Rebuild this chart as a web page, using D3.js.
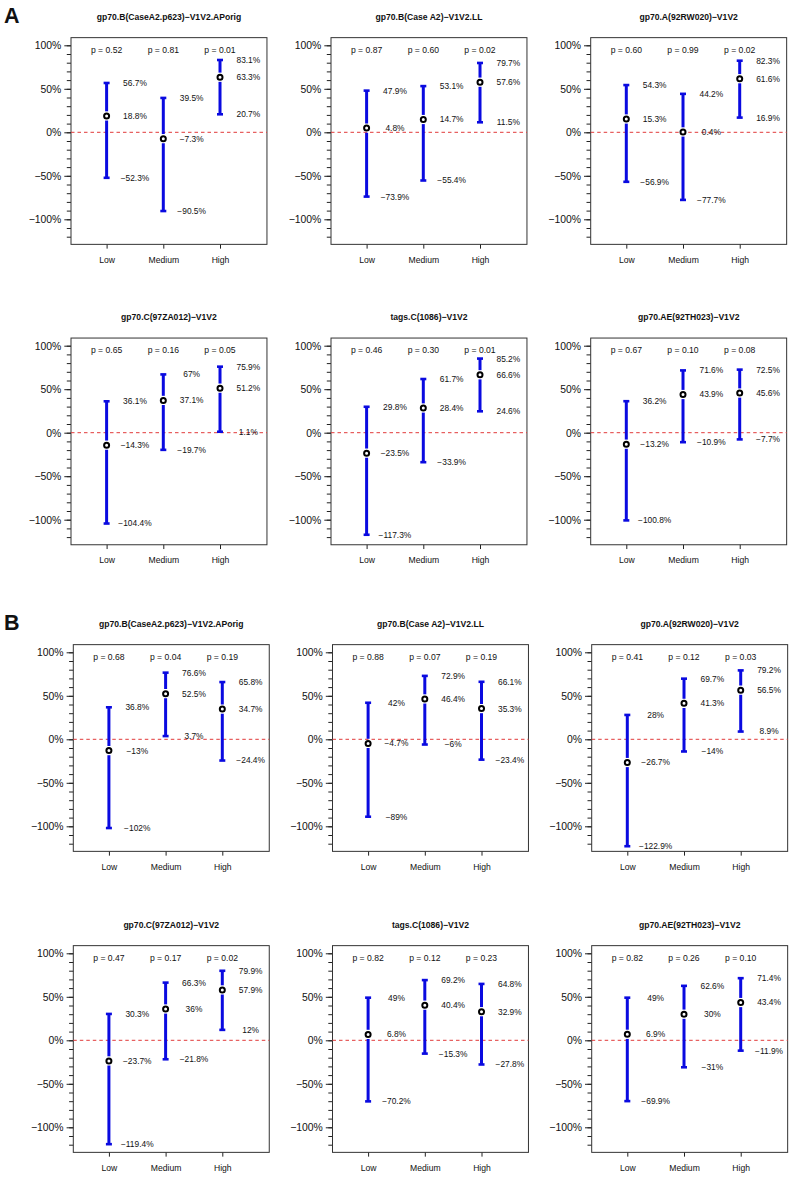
<!DOCTYPE html>
<html>
<head>
<meta charset="utf-8">
<script src="https://cdn.jsdelivr.net/npm/d3@7"></script>
<style>
  html, body { margin: 0; padding: 0; background: #fff; }
  svg { display: block; }
  text { font-family: "Liberation Sans", Arial, Helvetica, sans-serif; fill: #111; }
</style>
</head>
<body>
<svg id="chart" width="792" height="1177"></svg>
<script>
// ---------------- DATA ----------------
const categories = ["Low", "Medium", "High"];
const panelLetters = ["A", "B"];
const titles = [
  "gp70.B(CaseA2.p623)\u2212V1V2.APorig",
  "gp70.B(Case A2)\u2212V1V2.LL",
  "gp70.A(92RW020)\u2212V1V2",
  "gp70.C(97ZA012)\u2212V1V2",
  "tags.C(1086)\u2212V1V2",
  "gp70.AE(92TH023)\u2212V1V2"
];
const yTickValues = [-100, -50, 0, 50, 100];
const yMinorTickValues = [-120, -110, -100, -90, -80, -70, -60, -50, -40, -30, -20, -10, 0, 10, 20, 30, 40, 50, 60, 70, 80, 90, 100];

// Panel A (6 plots), each: [Low, Medium, High]
const pValuesA = [
  ["0.52", "0.81", "0.01"],
  ["0.87", "0.60", "0.02"],
  ["0.60", "0.99", "0.02"],
  ["0.65", "0.16", "0.05"],
  ["0.46", "0.30", "0.01"],
  ["0.67", "0.10", "0.08"]
];
const upperA = [
  [56.7, 39.5, 83.1],
  [47.9, 53.1, 79.7],
  [54.3, 44.2, 82.3],
  [36.1, 67, 75.9],
  [29.8, 61.7, 85.2],
  [36.2, 71.6, 72.5]
];
const meanA = [
  [18.8, -7.3, 63.3],
  [4.8, 14.7, 57.6],
  [15.3, 0.4, 61.6],
  [-14.3, 37.1, 51.2],
  [-23.5, 28.4, 66.6],
  [-13.2, 43.9, 45.6]
];
const lowerA = [
  [-52.3, -90.5, 20.7],
  [-73.9, -55.4, 11.5],
  [-56.9, -77.7, 16.9],
  [-104.4, -19.7, 1.1],
  [-117.3, -33.9, 24.6],
  [-100.8, -10.9, -7.7]
];

// Panel B (6 plots)
const pValuesB = [
  ["0.68", "0.04", "0.19"],
  ["0.88", "0.07", "0.19"],
  ["0.41", "0.12", "0.03"],
  ["0.47", "0.17", "0.02"],
  ["0.82", "0.12", "0.23"],
  ["0.82", "0.26", "0.10"]
];
const upperB = [
  [36.8, 76.6, 65.8],
  [42, 72.9, 66.1],
  [28, 69.7, 79.2],
  [30.3, 66.3, 79.9],
  [49, 69.2, 64.8],
  [49, 62.6, 71.4]
];
const meanB = [
  [-13, 52.5, 34.7],
  [-4.7, 46.4, 35.3],
  [-26.7, 41.3, 56.5],
  [-23.7, 36, 57.9],
  [6.8, 40.4, 32.9],
  [6.9, 30, 43.4]
];
const lowerB = [
  [-102, 3.7, -24.4],
  [-89, -6, -23.4],
  [-122.9, -14, 8.9],
  [-119.4, -21.8, 12],
  [-70.2, -15.3, -27.8],
  [-69.9, -31, -11.9]
];

// ---------------- LAYOUT ----------------
const groups = [
  { letter: panelLetters[0], p: pValuesA, up: upperA, mid: meanA, lo: lowerA,
    colLeft: [71, 331, 590.7], rowZero: [132.3, 432.7], letterY: 22.7 },
  { letter: panelLetters[1], p: pValuesB, up: upperB, mid: meanB, lo: lowerB,
    colLeft: [73.3, 332.5, 591.7], rowZero: [739.3, 1040.3], letterY: 629.5 }
];

const pxPerUnitX = 56.7;
const pxPerPct = 0.87;
const xDomain = [0.372, 3.828];
const yDomain = [-128.8, 108.8];
const boxW = (xDomain[1] - xDomain[0]) * pxPerUnitX;
const ink = "#111";

const svg = d3.select("#chart");
const fmt = v => String(v).replace("-", "\u2212") + "%";

groups.forEach(g => {
  svg.append("text")
    .attr("x", 4).attr("y", g.letterY)
    .attr("font-size", 21.5).attr("font-weight", "bold")
    .attr("fill", "#000")
    .text(g.letter);

  for (let i = 0; i < 6; i++) {
    const row = Math.floor(i / 3), col = i % 3;
    const L = g.colLeft[col];
    const zero = g.rowZero[row];
    const x = d3.scaleLinear().domain(xDomain).range([L, L + boxW]);
    const yS = d3.scaleLinear().domain([yDomain[0], yDomain[1]])
      .range([zero - yDomain[0] * pxPerPct, zero - yDomain[1] * pxPerPct]);

    const top = yS(yDomain[1]), bottom = yS(yDomain[0]);
    const p = svg.append("g");

    // title
    p.append("text")
      .attr("x", L + boxW / 2).attr("y", zero - 115.3)
      .attr("dy", "0.35em")
      .attr("text-anchor", "middle")
      .attr("font-size", 8.6).attr("font-weight", "bold")
      .attr("fill", ink)
      .text(titles[i]);

    // y axis major
    const yAxis = d3.axisLeft(yS).tickValues(yTickValues)
      .tickSize(6.7).tickPadding(3).tickFormat(d => fmt(d));
    const ya = p.append("g").attr("transform", `translate(${L},0)`)
      .attr("color", ink).call(yAxis);
    ya.select(".domain").remove();
    ya.selectAll("text").attr("font-size", 10.4).attr("fill", ink)
      .style("font-family", '"Liberation Sans", Arial, sans-serif');
    ya.selectAll("line").attr("stroke", "#222");

    // y axis minor
    const yMinor = d3.axisLeft(yS).tickValues(yMinorTickValues)
      .tickSize(4.2).tickFormat("");
    const ym = p.append("g").attr("transform", `translate(${L},0)`)
      .attr("color", ink).call(yMinor);
    ym.select(".domain").remove();
    ym.selectAll("line").attr("stroke", "#222");

    // x axis
    const xAxis = d3.axisBottom(x).tickValues([1, 2, 3])
      .tickSize(4.3).tickPadding(8).tickFormat(d => categories[d - 1]);
    const xa = p.append("g").attr("transform", `translate(0,${bottom})`)
      .attr("color", ink).call(xAxis);
    xa.select(".domain").remove();
    xa.selectAll("text").attr("font-size", 8.6).attr("fill", ink)
      .style("font-family", '"Liberation Sans", Arial, sans-serif');
    xa.selectAll("line").attr("stroke", "#222");

    // box
    p.append("rect")
      .attr("x", L).attr("y", top)
      .attr("width", boxW).attr("height", bottom - top)
      .attr("fill", "none").attr("stroke", "#333").attr("stroke-width", 1);

    // zero line
    p.append("line")
      .attr("x1", L).attr("x2", L + boxW)
      .attr("y1", yS(0)).attr("y2", yS(0))
      .attr("stroke", "#e23a3a").attr("stroke-width", 1)
      .attr("stroke-dasharray", "3.5,3");

    // p-values
    categories.forEach((c, k) => {
      p.append("text")
        .attr("x", x(k + 1)).attr("y", yS(95)).attr("dy", "0.35em")
        .attr("text-anchor", "middle").attr("font-size", 8.6)
        .attr("fill", ink)
        .text("p = " + g.p[i][k]);
    });

    // error bars
    const gap = 4.6;
    categories.forEach((c, k) => {
      const cx = x(k + 1);
      const u = g.up[i][k], m = g.mid[i][k], l = g.lo[i][k];
      const blue = "#0a0ae0";
      p.append("line").attr("x1", cx).attr("x2", cx)
        .attr("y1", yS(u)).attr("y2", yS(m) - gap)
        .attr("stroke", blue).attr("stroke-width", 3);
      p.append("line").attr("x1", cx).attr("x2", cx)
        .attr("y1", yS(m) + gap).attr("y2", yS(l))
        .attr("stroke", blue).attr("stroke-width", 3);
      [u, l].forEach(v => {
        p.append("line").attr("x1", cx - 3).attr("x2", cx + 3)
          .attr("y1", yS(v)).attr("y2", yS(v))
          .attr("stroke", blue).attr("stroke-width", 2.6);
      });
      p.append("circle").attr("cx", cx).attr("cy", yS(m)).attr("r", 2.5)
        .attr("fill", "#fff").attr("stroke", "#000").attr("stroke-width", 2);

      // value labels
      [u, m, l].forEach(v => {
        p.append("text")
          .attr("x", x(k + 1.5)).attr("y", yS(v)).attr("dy", "0.35em")
          .attr("text-anchor", "middle").attr("font-size", 8.4)
          .attr("fill", ink)
          .text(fmt(v));
      });
    });
  }
});
</script>
</body>
</html>
